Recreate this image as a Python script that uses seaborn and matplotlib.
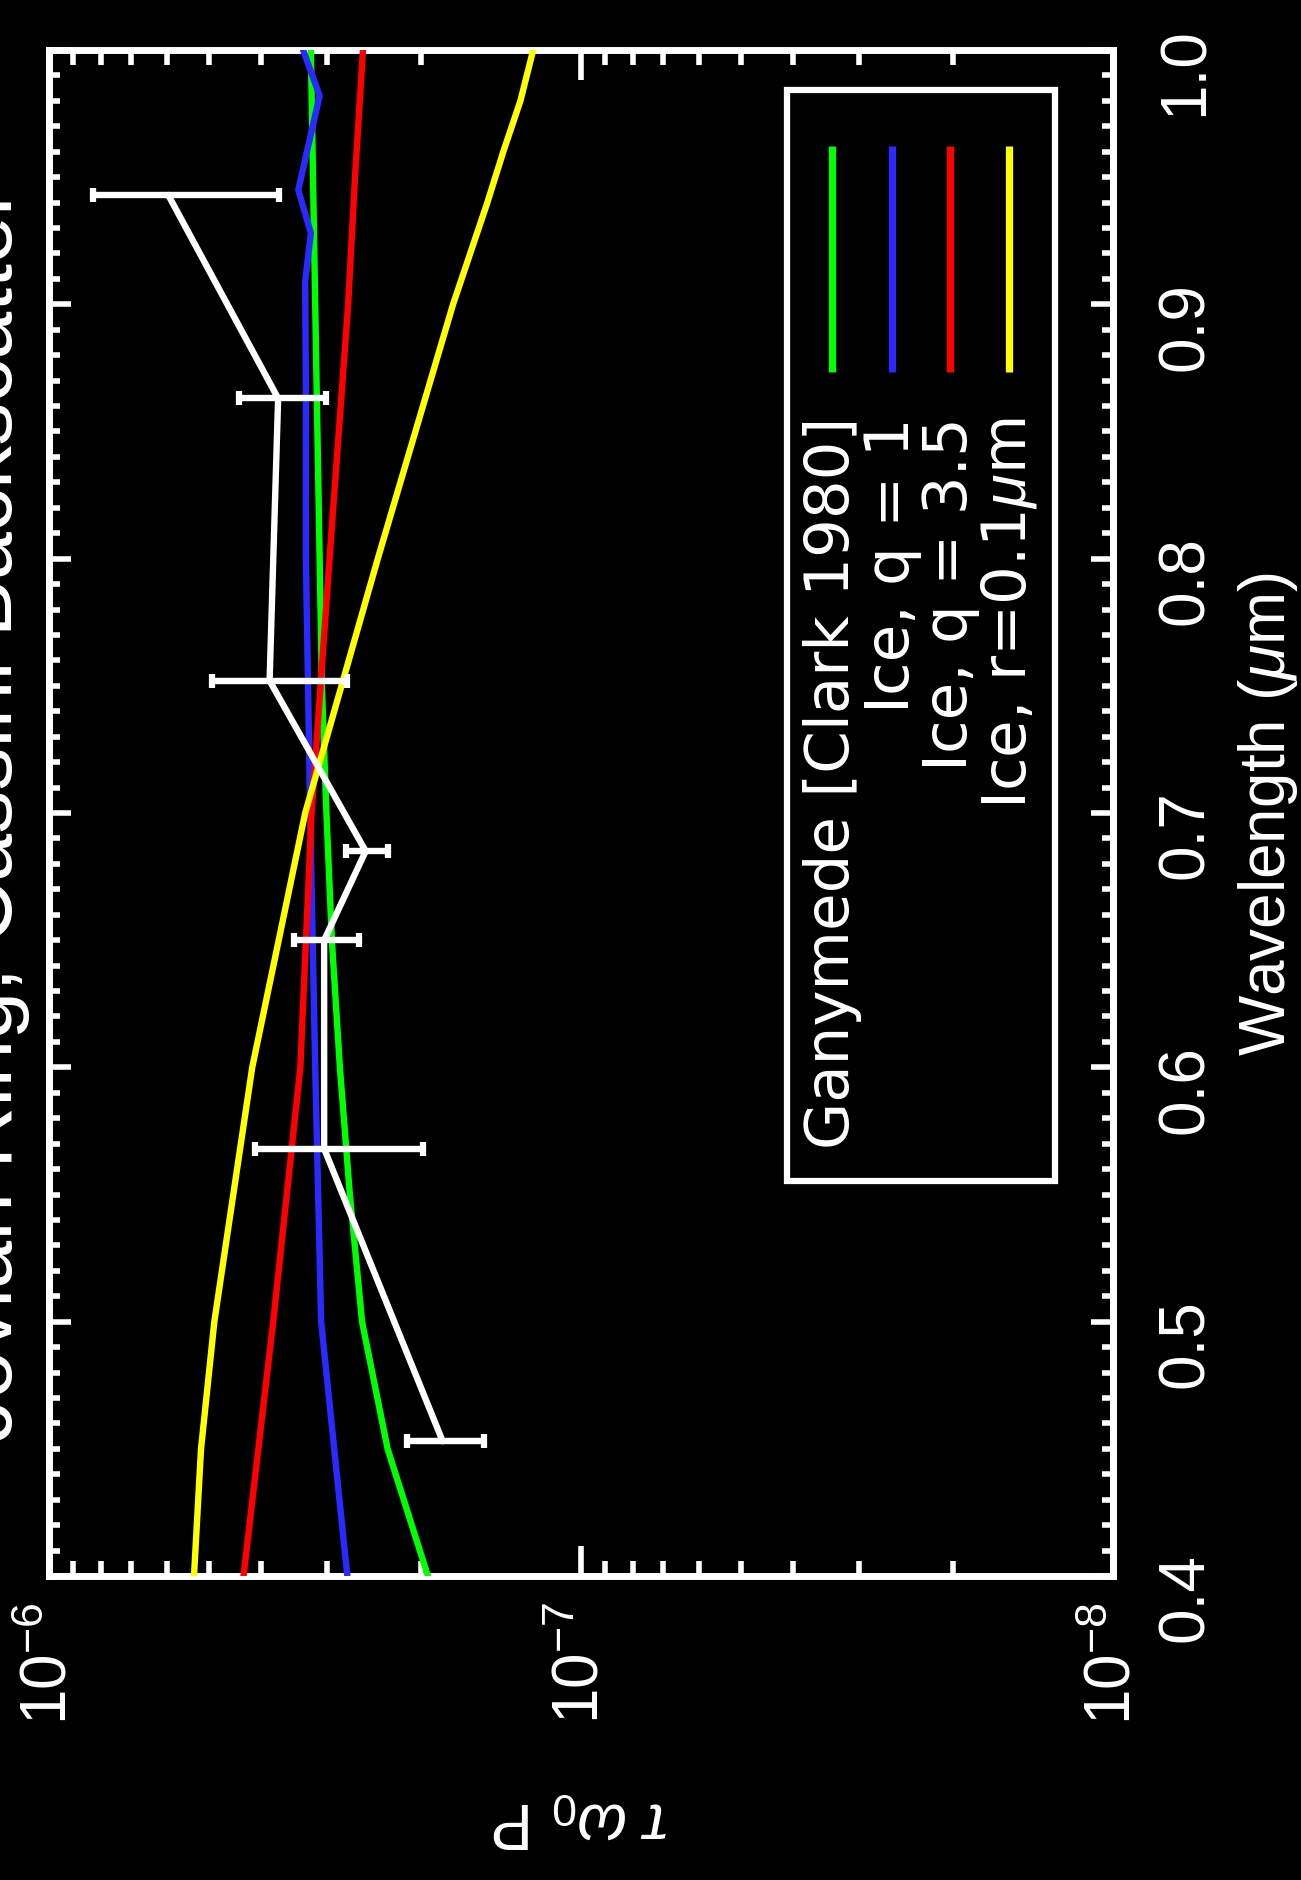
"""
Jovian ring backscatter vs wavelength, drawn in the rotated (landscape) layout
of the original IDL plot: wavelength runs up the page, tau*omega0*P runs right-to-left.
"""

import matplotlib
matplotlib.use("Agg")
import numpy as np
import matplotlib.pyplot as plt
from matplotlib.patches import Rectangle
from matplotlib.ticker import LogLocator, NullFormatter, MultipleLocator, FormatStrFormatter
import seaborn as sns

# ── Data (tau*omega0*P in units of 1e-7, wavelength in micron) ───────────────
obs_wl = [0.453, 0.568, 0.650, 0.685, 0.752, 0.863, 0.943]
obs_val = [1.82, 3.04, 3.04, 2.54, 3.85, 3.71, 5.97]
obs_err = [0.30, 1.06, 0.43, 0.23, 1.10, 0.69, 2.28]

ganymede_wl = [0.40, 0.45, 0.50, 0.55, 0.60, 0.65, 0.70, 0.75, 0.80, 0.85, 0.90, 0.95, 1.00]
ganymede_val = [1.94, 2.31, 2.58, 2.72, 2.84, 2.94, 3.01, 3.07, 3.10, 3.13, 3.16, 3.19, 3.22]

ice_q1_wl = [0.40, 0.50, 0.60, 0.70, 0.80, 0.866, 0.909, 0.928, 0.945, 0.982, 1.00]
ice_q1_val = [2.75, 3.08, 3.16, 3.23, 3.29, 3.29, 3.30, 3.22, 3.40, 3.10, 3.33]

ice_q35_wl = [0.40, 0.50, 0.60, 0.70, 0.80, 0.90, 0.95, 1.00]
ice_q35_val = [4.31, 3.79, 3.37, 3.21, 2.97, 2.74, 2.66, 2.57]

ice_small_wl = [0.40, 0.45, 0.50, 0.60, 0.70, 0.80, 0.90, 0.94, 0.96, 0.98, 1.00]
ice_small_val = [5.34, 5.18, 4.89, 4.15, 3.30, 2.41, 1.74, 1.50, 1.40, 1.30, 1.23]

model_labels = ["Ganymede [Clark 1980]", "Ice, q = 1", "Ice, q = 3.5", r"Ice, r=0.1$\mu$m"]
model_colors = ["#00ff00", "#2a2aff", "#ff0000", "#ffff00"]
models = [
    (ganymede_wl, ganymede_val),
    (ice_q1_wl, ice_q1_val),
    (ice_q35_wl, ice_q35_val),
    (ice_small_wl, ice_small_val),
]
SCALE = 1e-7

# ── Style ────────────────────────────────────────────────────────────────────
sns.set_theme(style="ticks", rc={
    "figure.facecolor": "black",
    "axes.facecolor": "black",
    "axes.edgecolor": "white",
    "text.color": "white",
    "axes.labelcolor": "white",
    "xtick.color": "white",
    "ytick.color": "white",
})
plt.rcParams["font.family"] = ["Liberation Sans", "DejaVu Sans"]
plt.rcParams["mathtext.fontset"] = "custom"
plt.rcParams["mathtext.rm"] = "Liberation Sans"
plt.rcParams["mathtext.it"] = "Liberation Sans:italic"
plt.rcParams["mathtext.bf"] = "Liberation Sans:bold"

FS = 46
LW = 4.6

fig = plt.figure(figsize=(13.01, 18.81), dpi=100, facecolor="black")
ax = fig.add_axes([0.0377, 0.1616, 0.8178, 0.8113])
ax.set_facecolor("black")

# ── Model curves ─────────────────────────────────────────────────────────────
for (wl, val), col in zip(models, model_colors):
    sns.lineplot(x=np.array(val) * SCALE, y=wl, ax=ax, color=col, lw=LW,
                 sort=False, estimator=None, orient="y", zorder=3)

# ── Observations with error bars ─────────────────────────────────────────────
obs_x = np.array(obs_val) * SCALE
sns.lineplot(x=obs_x, y=obs_wl, ax=ax, color="white", lw=LW,
             sort=False, estimator=None, orient="y", zorder=4)
ax.errorbar(obs_x, obs_wl, xerr=np.array(obs_err) * SCALE, fmt="none",
            ecolor="white", elinewidth=LW, capsize=5, capthick=4.5, zorder=4)

# ── Axes ─────────────────────────────────────────────────────────────────────
ax.set_xscale("log")
ax.set_xlim(1e-6, 1e-8)
ax.set_ylim(0.4, 1.0)
ax.xaxis.set_major_locator(LogLocator(base=10))
ax.xaxis.set_minor_locator(LogLocator(base=10, subs=np.arange(2, 10)))
ax.xaxis.set_minor_formatter(NullFormatter())
ax.yaxis.set_major_locator(MultipleLocator(0.1))
ax.yaxis.set_minor_locator(MultipleLocator(0.01))
ax.yaxis.set_major_formatter(FormatStrFormatter("%.1f"))

ax.tick_params(axis="x", which="major", direction="in", length=21.6, width=4,
               top=True, bottom=True, pad=18, labelsize=FS, labelrotation=90)
ax.tick_params(axis="x", which="minor", direction="in", length=10.8, width=4,
               top=True, bottom=True)
ax.tick_params(axis="y", which="major", direction="in", length=15.8, width=4,
               left=True, right=True, labelleft=False, labelright=True,
               pad=31, labelsize=FS, labelrotation=90)
ax.tick_params(axis="y", which="minor", direction="in", length=7.9, width=4,
               left=True, right=True)
for s in ax.spines.values():
    s.set_color("white")
    s.set_linewidth(5)

ax.yaxis.set_label_position("right")
ax.set_ylabel(r"Wavelength ($\mu$m)", fontsize=FS, rotation=90, labelpad=14)
ax.set_xlabel(r"$\tau\ \omega_0\ \mathrm{P}$", fontsize=FS, rotation=180, labelpad=47)

# title sits on the far left and runs off the page edge, as in the original
ax.text(-0.035, 0.5, "Jovian Ring, Cassini Backscatter", transform=ax.transAxes,
        rotation=90, rotation_mode="anchor", ha="center", va="baseline",
        fontsize=62, color="white")

# ── Legend (drawn by hand, rotated with the rest of the plot) ────────────────
ax.add_patch(Rectangle((0.6936, 0.2588), 0.2519, 0.715, transform=ax.transAxes,
                       fill=False, ec="white", lw=4.5, zorder=6))
leg_x = [0.7359, 0.7923, 0.8468, 0.9023]
for lx, lab, col in zip(leg_x, model_labels, model_colors):
    ax.plot([lx, lx], [0.789, 0.937], transform=ax.transAxes, color=col, lw=5.2,
            solid_capstyle="butt", zorder=6)
    ax.text(lx, 0.760, lab, transform=ax.transAxes, rotation=90,
            rotation_mode="anchor", ha="right", va="center", fontsize=44,
            family=["DejaVu Sans"], color="white", zorder=6)

fig.savefig("out.png", dpi=100, facecolor="black")
